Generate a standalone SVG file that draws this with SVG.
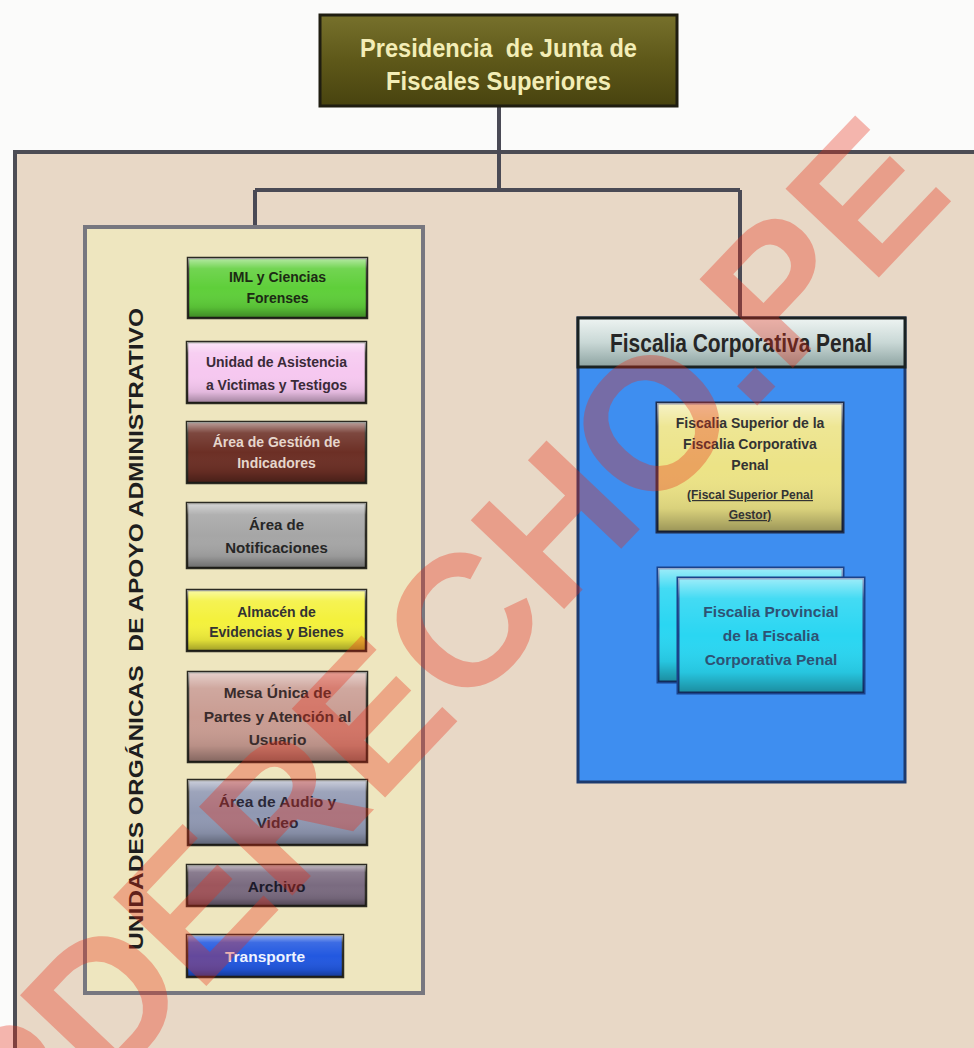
<svg xmlns="http://www.w3.org/2000/svg" width="974" height="1048" viewBox="0 0 974 1048">
<defs>
<linearGradient id="gloss" x1="0" y1="0" x2="0" y2="1">
<stop offset="0" stop-color="#fff" stop-opacity="0.55"/>
<stop offset="0.18" stop-color="#fff" stop-opacity="0.12"/>
<stop offset="0.5" stop-color="#fff" stop-opacity="0"/>
<stop offset="0.82" stop-color="#000" stop-opacity="0.08"/>
<stop offset="1" stop-color="#000" stop-opacity="0.35"/>
</linearGradient>
<linearGradient id="hdr" x1="0" y1="0" x2="0" y2="1">
<stop offset="0" stop-color="#eef4f2"/>
<stop offset="0.5" stop-color="#c9d8d6"/>
<stop offset="1" stop-color="#8da3a1"/>
</linearGradient>
<linearGradient id="olive" x1="0" y1="0" x2="0" y2="1">
<stop offset="0" stop-color="#77712c"/>
<stop offset="0.5" stop-color="#5e5819"/>
<stop offset="1" stop-color="#48430f"/>
</linearGradient>
<style>
.box{stroke:#2b2a22;stroke-width:2.5}
.gl{fill:url(#gloss)}
.lbl{font-family:'Liberation Sans',Arial,sans-serif;font-weight:bold;text-anchor:middle}
.conn{stroke:#4a4a55;stroke-width:4;fill:none}
.wm{font-family:'Liberation Sans',Arial,sans-serif;font-weight:bold;fill:#e82a14;opacity:0.33}
</style>
</defs>
<rect x="0" y="0" width="974" height="1048" fill="#fbfbfa"/>
<g id="frame">
<rect x="15" y="152" width="970" height="910" fill="#e8d8c6" stroke="#4d4d55" stroke-width="4"/>
</g>
<g id="connectors">
<path class="conn" d="M499,106 V190"/>
<path class="conn" d="M255,190 H740"/>
<path class="conn" d="M255,190 V227"/>
<path class="conn" d="M740,190 V318"/>
<path d="M750,532 V570" stroke="#1d3050" stroke-width="3" fill="none"/>
</g>
<g id="presidencia">
<rect x="320" y="15" width="357" height="91" fill="url(#olive)" stroke="#1f1d10" stroke-width="3"/>
<text class="lbl" x="498.5" y="57" font-size="26" fill="#f3edb6" textLength="277" lengthAdjust="spacingAndGlyphs">Presidencia&#160; de Junta de</text>
<text class="lbl" x="498.5" y="90" font-size="26" fill="#f3edb6" textLength="225" lengthAdjust="spacingAndGlyphs">Fiscales Superiores</text>
</g>
<g id="unidades-apoyo">
<rect x="85" y="227" width="338" height="766" fill="#eee6bf" stroke="#77777f" stroke-width="4"/>
<text class="lbl" transform="translate(143,629) rotate(-90)" x="0" y="0" font-size="21" fill="#1e1e1e" textLength="642" lengthAdjust="spacingAndGlyphs">UNIDADES ORGÁNICAS&#160; DE APOYO ADMINISTRATIVO</text>
</g>
<g id="iml">
<rect class="box" x="188" y="258" width="179" height="60" fill="#5fcf3a"/>
<rect class="gl" x="188" y="258" width="179" height="60"/>
<text class="lbl" x="277.5" y="282" font-size="14" fill="#1c2a14">IML y Ciencias</text>
<text class="lbl" x="277.5" y="303" font-size="14" fill="#1c2a14">Forenses</text>
</g>
<g id="asistencia">
<rect class="box" x="187" y="342" width="179" height="61" fill="#f6c8f0"/>
<rect class="gl" x="187" y="342" width="179" height="61"/>
<text class="lbl" x="276.5" y="367" font-size="14" fill="#3a2a38">Unidad de Asistencia</text>
<text class="lbl" x="276.5" y="390" font-size="14" fill="#3a2a38">a Victimas y Testigos</text>
</g>
<g id="gestion-indicadores">
<rect class="box" x="187" y="422" width="179" height="61" fill="#6c2f25"/>
<rect class="gl" x="187" y="422" width="179" height="61"/>
<text class="lbl" x="276.5" y="447" font-size="14" fill="#e6d6cc">Área de Gestión de</text>
<text class="lbl" x="276.5" y="468" font-size="14" fill="#e6d6cc">Indicadores</text>
</g>
<g id="notificaciones">
<rect class="box" x="187" y="503" width="179" height="65" fill="#a6a6a6"/>
<rect class="gl" x="187" y="503" width="179" height="65"/>
<text class="lbl" x="276.5" y="530" font-size="15" fill="#262626">Área de</text>
<text class="lbl" x="276.5" y="553" font-size="15" fill="#262626">Notificaciones</text>
</g>
<g id="almacen">
<rect class="box" x="187" y="590" width="179" height="61" fill="#f4f13c"/>
<rect class="gl" x="187" y="590" width="179" height="61"/>
<text class="lbl" x="276.5" y="617" font-size="14" fill="#333">Almacén de</text>
<text class="lbl" x="276.5" y="637" font-size="14" fill="#333">Evidencias y Bienes</text>
</g>
<g id="mesa-unica">
<rect class="box" x="188" y="672" width="179" height="90" fill="#c99c92"/>
<rect class="gl" x="188" y="672" width="179" height="90"/>
<text class="lbl" x="277.5" y="698" font-size="15.5" fill="#3a2c2c">Mesa Única de</text>
<text class="lbl" x="277.5" y="722" font-size="15.5" fill="#3a2c2c">Partes y Atención al</text>
<text class="lbl" x="277.5" y="745" font-size="15.5" fill="#3a2c2c">Usuario</text>
</g>
<g id="audio-video">
<rect class="box" x="188" y="780" width="179" height="65" fill="#9098b2"/>
<rect class="gl" x="188" y="780" width="179" height="65"/>
<text class="lbl" x="277.5" y="807" font-size="15.5" fill="#2a2838">Área de Audio y</text>
<text class="lbl" x="277.5" y="828" font-size="15.5" fill="#2a2838">Video</text>
</g>
<g id="archivo">
<rect class="box" x="187" y="865" width="179" height="41" fill="#7a6b80"/>
<rect class="gl" x="187" y="865" width="179" height="41"/>
<text class="lbl" x="276.5" y="892" font-size="15.5" fill="#1c1a2a">Archivo</text>
</g>
<g id="transporte">
<rect class="box" x="187" y="935" width="156" height="42" fill="#2258e0" stroke="#142050"/>
<rect class="gl" x="187" y="935" width="156" height="42"/>
<text class="lbl" x="265" y="962" font-size="15.5" fill="#eef3ff">Transporte</text>
</g>
<g id="fiscalia-corporativa-penal">
<rect x="578" y="318" width="327" height="464" fill="#3e8ef0" stroke="#1d3a6e" stroke-width="3"/>
<rect x="578" y="318" width="327" height="49" fill="url(#hdr)" stroke="#1a2222" stroke-width="3"/>
<text class="lbl" x="741" y="352" font-size="25" fill="#262626" textLength="262" lengthAdjust="spacingAndGlyphs">Fiscalia Corporativa Penal</text>
</g>
<g id="fiscalia-superior">
<rect x="657" y="403" width="186" height="129" fill="#ece386" stroke="#1f2d4c" stroke-width="3"/>
<rect class="gl" x="657" y="403" width="186" height="129"/>
<text class="lbl" x="750" y="428" font-size="14" fill="#333">Fiscalia Superior de la</text>
<text class="lbl" x="750" y="449" font-size="14" fill="#333">Fiscalia Corporativa</text>
<text class="lbl" x="750" y="470" font-size="14" fill="#333">Penal</text>
<text class="lbl" x="750" y="499" font-size="12" fill="#333" text-decoration="underline">(Fiscal Superior Penal</text>
<text class="lbl" x="750" y="519" font-size="12" fill="#333" text-decoration="underline">Gestor)</text>
</g>
<g id="fiscalia-provincial">
<rect x="658" y="568" width="185" height="114" fill="#2ad6f2" stroke="#1a428a" stroke-width="3"/>
<rect class="gl" x="658" y="568" width="185" height="114"/>
<rect x="678" y="578" width="186" height="115" fill="#2ad6f2" stroke="#1a428a" stroke-width="3"/>
<rect class="gl" x="678" y="578" width="186" height="115"/>
<text class="lbl" x="771" y="617" font-size="15.5" fill="#2e5274">Fiscalia Provincial</text>
<text class="lbl" x="771" y="641" font-size="15.5" fill="#2e5274">de la Fiscalia</text>
<text class="lbl" x="771" y="665" font-size="15.5" fill="#2e5274">Corporativa Penal</text>
</g>
<text class="wm" transform="translate(956,196) rotate(-46.5)" x="0" y="0" font-size="187" text-anchor="end">LPDERECHO.PE</text>
</svg>
